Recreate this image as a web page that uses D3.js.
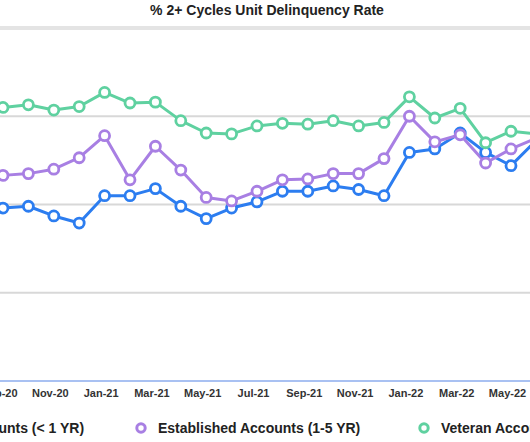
<!DOCTYPE html>
<html>
<head>
<meta charset="utf-8">
<script src="https://cdn.jsdelivr.net/npm/d3@7"></script>
<style>
  html, body { margin: 0; padding: 0; background: #fff; }
  svg { display: block; }
</style>
</head>
<body>
<svg id="chart" width="530" height="442"></svg>
<script>
// ---- data (y in gridline units) ----
const months = ["Sep-20","Oct-20","Nov-20","Dec-20","Jan-21","Feb-21","Mar-21","Apr-21","May-21","Jun-21","Jul-21","Aug-21","Sep-21","Oct-21","Nov-21","Dec-21","Jan-22","Feb-22","Mar-22","Apr-22","May-22","Jun-22"];
const newAccounts = [1.96,1.98,1.87,1.79,2.10,2.10,2.18,1.98,1.84,1.96,2.03,2.15,2.15,2.21,2.17,2.10,2.59,2.63,2.81,2.59,2.44,2.73];
const establishedAccounts = [2.33,2.35,2.40,2.53,2.78,2.28,2.66,2.39,2.08,2.04,2.15,2.28,2.29,2.35,2.35,2.52,3.00,2.71,2.79,2.47,2.63,2.75];
const veteranAccounts = [3.10,3.13,3.07,3.11,3.27,3.15,3.16,2.95,2.81,2.80,2.89,2.92,2.91,2.95,2.89,2.93,3.22,2.98,3.09,2.70,2.83,2.80];
const seriesNames = ["New Accounts (< 1 YR)", "Established Accounts (1-5 YR)", "Veteran Accounts (5+ YR)"];
const seriesColors = ["#2c7df0", "#a87fe3", "#5fd1a0"];
const yTicks = [0, 1, 2, 3, 4];
const tickMonths = months.filter((m, i) => i % 2 === 0);
const title = "% 2+ Cycles Unit Delinquency Rate";

const series = [
  { name: seriesNames[0], color: seriesColors[0], values: newAccounts },
  { name: seriesNames[1], color: seriesColors[1], values: establishedAccounts },
  { name: seriesNames[2], color: seriesColors[2], values: veteranAccounts }
];

const svg = d3.select("#chart");
const W = 530, H = 442;
const step = 25.4;
const x = d3.scalePoint().domain(months).range([3, 3 + step * (months.length - 1)]);
const y = d3.scaleLinear().domain([0, 4]).range([381, 28]);

// title
svg.append("text")
  .attr("x", 267).attr("y", 15)
  .attr("text-anchor", "middle")
  .attr("font-family", "Liberation Sans, Arial, sans-serif")
  .attr("font-weight", "bold")
  .attr("font-size", 14)
  .attr("fill", "#222")
  .text(title);

// gridlines
svg.append("g")
  .selectAll("line")
  .data(yTicks.filter(t => t > 0))
  .join("line")
  .attr("x1", 0).attr("x2", W)
  .attr("y1", d => y(d)).attr("y2", d => y(d))
  .attr("stroke", d => d === 4 ? "#e4e4e4" : "#d8d8d8")
  .attr("stroke-width", d => d === 4 ? 4 : 2);

// x axis
const xAxis = d3.axisBottom(x).tickValues(tickMonths).tickSize(0).tickPadding(8);
const gx = svg.append("g")
  .attr("transform", `translate(0,${y(0)})`)
  .call(xAxis);
gx.select(".domain").attr("stroke", "#a9c1f2").attr("stroke-width", 2)
  .attr("d", `M-10,0H${W + 10}`);
gx.selectAll("text")
  .attr("font-family", "Liberation Sans, Arial, sans-serif")
  .attr("font-weight", "bold")
  .attr("font-size", 11)
  .attr("fill", "#333")
  .attr("dx", -4);

// lines & points
const line = d3.line().x((d, i) => x(months[i])).y(d => y(d));
const gs = svg.append("g");
series.forEach(s => {
  gs.append("path")
    .datum(s.values)
    .attr("d", line)
    .attr("fill", "none")
    .attr("stroke", s.color)
    .attr("stroke-width", 3)
    .attr("stroke-linejoin", "round");
});
series.forEach(s => {
  gs.append("g").selectAll("circle")
    .data(s.values)
    .join("circle")
    .attr("cx", (d, i) => x(months[i]))
    .attr("cy", d => y(d))
    .attr("r", 5)
    .attr("fill", "#fff")
    .attr("stroke", s.color)
    .attr("stroke-width", 2.8);
});

// legend
const legendX = [-85, 141, 424];
const lg = svg.append("g");
series.forEach((s, i) => {
  const g = lg.append("g").attr("transform", `translate(${legendX[i]},428)`);
  g.append("circle").attr("r", 4.2).attr("fill", "#fff").attr("stroke", s.color).attr("stroke-width", 3);
  g.append("text")
    .attr("x", 17).attr("y", 5)
    .attr("font-family", "Liberation Sans, Arial, sans-serif")
    .attr("font-weight", "bold")
    .attr("font-size", 14)
    .attr("fill", "#222")
    .text(s.name);
});
</script>
</body>
</html>
